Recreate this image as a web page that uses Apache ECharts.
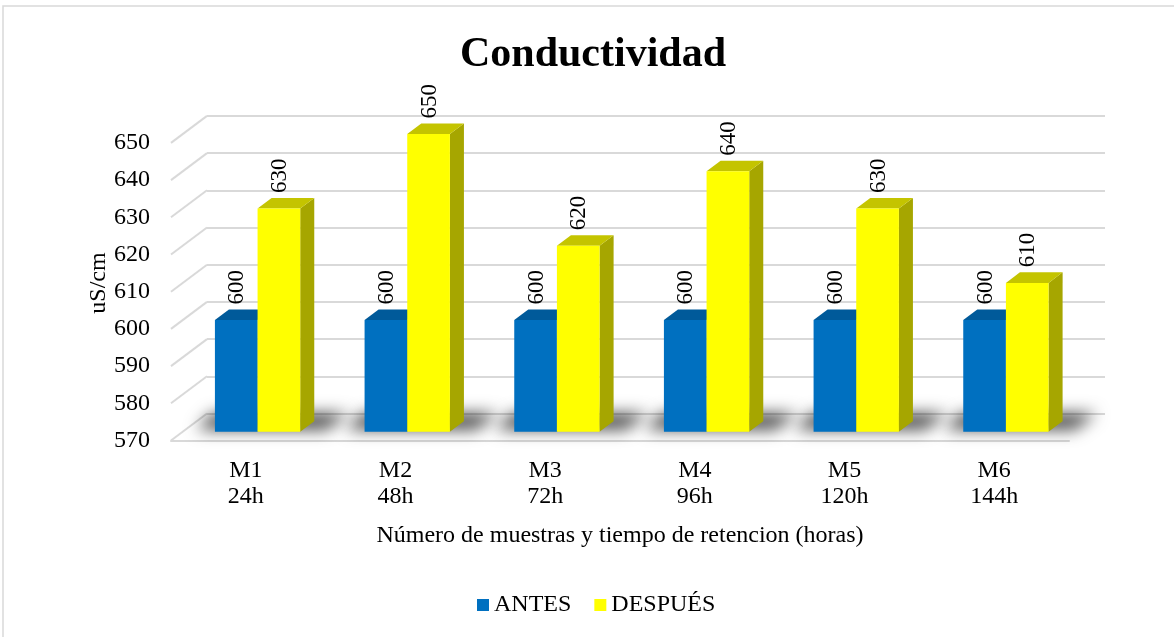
<!DOCTYPE html>
<html>
<head>
<meta charset="utf-8">
<title>Conductividad</title>
<script src="https://cdn.jsdelivr.net/npm/echarts@6/dist/echarts.min.js"></script>
<style>
  html, body { margin: 0; padding: 0; background: #ffffff; }
  #chart { width: 1174px; height: 637px; }
</style>
</head>
<body>
<div id="chart"></div>
<script>
// ---- data ----
const categories = ['M1\n24h', 'M2\n48h', 'M3\n72h', 'M4\n96h', 'M5\n120h', 'M6\n144h'];
const antes = [600, 600, 600, 600, 600, 600];
const despues = [630, 650, 620, 640, 630, 610];
const yTicks = [570, 580, 590, 600, 610, 620, 630, 640, 650];

// ---- layout / style ----
const FONT = '"Liberation Serif", "Times New Roman", serif';
const Y_MIN = 570, Y_MAX = 650, Y_STEP = 10;
const GRID_COLOR = '#d9d9d9';

// front plane of the 3D box, and the depth vector pointing to the back wall
const FRONT = { left: 171, right: 105, top: 142.9, bottom: 196.5 };
const DEPTH = [36, -27];
const BAR_FRONT = 0.326;   // depth fraction where bar front faces sit
const BAR_DEPTH = 0.39;    // depth fraction taken by each bar
const BAR_WIDTH = 0.285;   // fraction of a category band per bar

function shiftGrid(g, f) {
  return {
    left: g.left + DEPTH[0] * f,
    right: g.right - DEPTH[0] * f,
    top: g.top + DEPTH[1] * f,
    bottom: g.bottom - DEPTH[1] * f
  };
}

const gridBars = shiftGrid(FRONT, BAR_FRONT);
const gridBack = shiftGrid(FRONT, 1);

const COLORS = {
  antes:   { front: '#0070C0', top: '#005A9A', side: '#004F88' },
  despues: { front: '#FFFF00', top: '#C4C400', side: '#A6A600' }
};

// 3D column: front face, top face, right side face and a rotated value label
function barRenderer(leftOfCenter, c) {
  return function (params, api) {
    const cat = api.value(0);
    const val = api.value(1);
    const band = api.size([1, 0])[0];
    const w = band * BAR_WIDTH;
    const base = api.coord([cat, Y_MIN]);
    const top = api.coord([cat, val]);
    const x0 = leftOfCenter ? base[0] - w : base[0];
    const x1 = x0 + w;
    const dx = DEPTH[0] * BAR_DEPTH, dy = DEPTH[1] * BAR_DEPTH;
    const yb = base[1], yt = top[1];
    return {
      type: 'group',
      children: [
        {
          type: 'polygon',
          shape: { points: [[x1, yt], [x1 + dx, yt + dy], [x1 + dx, yb + dy], [x1, yb]] },
          style: { fill: c.side }
        },
        {
          type: 'polygon',
          shape: { points: [[x0, yt], [x1, yt], [x1 + dx, yt + dy], [x0 + dx, yt + dy]] },
          style: { fill: c.top }
        },
        {
          type: 'rect',
          shape: { x: x0, y: yt, width: w, height: yb - yt },
          style: { fill: c.front }
        },
        {
          type: 'text',
          x: (x0 + x1) / 2 + 1,
          y: yt + dy - 5,
          rotation: Math.PI / 2,
          style: {
            text: String(val),
            font: '23px ' + FONT,
            fill: '#000000',
            align: 'left',
            verticalAlign: 'middle'
          }
        }
      ]
    };
  };
}

// soft floor shadow under each pair of columns (blurred shadow of an off-screen shape)
function shadowRenderer(params, api) {
  const cat = api.value(0);
  const band = api.size([1, 0])[0];
  const w = band * BAR_WIDTH;
  const base = api.coord([cat, Y_MIN]);
  const dx = DEPTH[0] * BAR_DEPTH, dy = DEPTH[1] * BAR_DEPTH;
  const yb = base[1] - 2;
  const back = dy - 6;
  const backDx = back * DEPTH[0] / DEPTH[1];
  const left = base[0] - w - 18;
  const right = base[0] + w + dx + 12;
  const OFF = 3000;
  return {
    type: 'polygon',
    shape: {
      points: [
        [left - OFF, yb], [right - OFF, yb],
        [right + backDx - OFF, yb + back], [left + backDx - 6 - OFF, yb + back]
      ]
    },
    style: {
      fill: '#000',
      shadowColor: 'rgba(0,0,0,0.7)',
      shadowBlur: 16,
      shadowOffsetX: OFF,
      shadowOffsetY: 0
    }
  };
}

// receding lines on the left side wall, one per tick
function sideLineRenderer(params, api) {
  const v = api.value(1);
  const p = api.coord([0, v]);
  const x = params.coordSys.x;
  return {
    type: 'line',
    shape: { x1: x, y1: p[1], x2: x + DEPTH[0], y2: p[1] + DEPTH[1] },
    style: { stroke: GRID_COLOR, lineWidth: 2 }
  };
}

const chart = echarts.init(document.getElementById('chart'), null, { renderer: 'canvas' });

const valueAxisBase = {
  type: 'value', min: Y_MIN, max: Y_MAX, interval: Y_STEP
};

chart.setOption({
  backgroundColor: '#ffffff',
  animation: false,
  title: {
    text: 'Conductividad',
    left: 588,
    textAlign: 'center',
    top: 29,
    textStyle: { fontFamily: FONT, fontSize: 42, fontWeight: 'bold', color: '#000000' }
  },
  legend: {
    left: 477,
    top: 593,
    padding: 0,
    itemWidth: 12,
    itemHeight: 12,
    itemGap: 23,
    icon: 'rect',
    textStyle: { fontFamily: FONT, fontSize: 24, color: '#000000' },
    data: [
      { name: 'ANTES', itemStyle: { color: COLORS.antes.front } },
      { name: 'DESPUÉS', itemStyle: { color: COLORS.despues.front } }
    ]
  },
  graphic: [
    {
      type: 'rect',
      shape: { x: 3, y: 6, width: 1200, height: 700 },
      style: { fill: 'none', stroke: GRID_COLOR, lineWidth: 1.5 },
      silent: true,
      z: -10
    },
    {
      type: 'text',
      x: 99,
      y: 283,
      rotation: Math.PI / 2,
      style: {
        text: 'uS/cm',
        font: '24px ' + FONT,
        fill: '#000000',
        align: 'center',
        verticalAlign: 'middle'
      }
    }
  ],
  grid: [
    Object.assign({}, gridBars),
    Object.assign({}, FRONT),
    Object.assign({}, gridBack)
  ],
  xAxis: [
    { type: 'category', gridIndex: 0, data: categories, show: false },
    {
      type: 'category', gridIndex: 1, data: categories,
      axisLine: { show: true, lineStyle: { color: GRID_COLOR, width: 2 } },
      axisTick: { show: false },
      axisLabel: {
        fontFamily: FONT, fontSize: 24, color: '#000000',
        lineHeight: 26, margin: 17
      },
      name: 'Número de muestras y tiempo de retencion (horas)',
      nameLocation: 'middle',
      nameGap: 95,
      nameTextStyle: { fontFamily: FONT, fontSize: 24, color: '#000000', verticalAlign: 'middle' }
    },
    { type: 'category', gridIndex: 2, data: categories, show: false }
  ],
  yAxis: [
    Object.assign({}, valueAxisBase, { gridIndex: 0, show: false }),
    Object.assign({}, valueAxisBase, {
      gridIndex: 1,
      axisLine: { show: false },
      axisTick: { show: false },
      splitLine: { show: false },
      axisLabel: { fontFamily: FONT, fontSize: 24, color: '#000000', margin: 21 }
    }),
    Object.assign({}, valueAxisBase, {
      gridIndex: 2,
      axisLine: { show: false },
      axisTick: { show: false },
      axisLabel: { show: false },
      splitLine: { show: true, lineStyle: { color: GRID_COLOR, width: 2 } }
    })
  ],
  series: [
    {
      type: 'custom',
      name: 'side-wall',
      xAxisIndex: 1, yAxisIndex: 1,
      renderItem: sideLineRenderer,
      data: yTicks.map(v => [0, v]),
      silent: true,
      clip: false,
      z: 1
    },
    {
      type: 'custom',
      name: 'floor-shadow',
      xAxisIndex: 0, yAxisIndex: 0,
      renderItem: shadowRenderer,
      data: categories.map((c, i) => [i, Y_MIN]),
      silent: true,
      clip: false,
      z: 2
    },
    {
      type: 'custom',
      name: 'ANTES',
      xAxisIndex: 0, yAxisIndex: 0,
      itemStyle: { color: COLORS.antes.front },
      renderItem: barRenderer(true, COLORS.antes),
      data: antes.map((v, i) => [i, v]),
      clip: false,
      z: 3
    },
    {
      type: 'custom',
      name: 'DESPUÉS',
      xAxisIndex: 0, yAxisIndex: 0,
      itemStyle: { color: COLORS.despues.front },
      renderItem: barRenderer(false, COLORS.despues),
      data: despues.map((v, i) => [i, v]),
      clip: false,
      z: 4
    }
  ]
});
</script>
</body>
</html>
